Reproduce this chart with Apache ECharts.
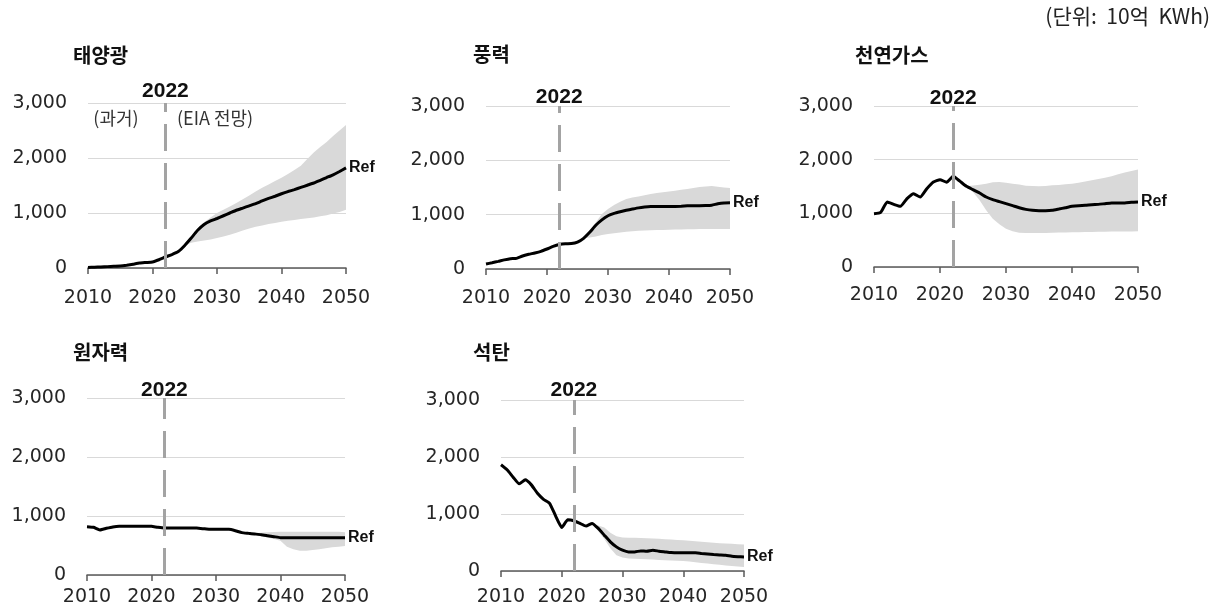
<!DOCTYPE html>
<html>
<head>
<meta charset="utf-8">
<script src="https://cdn.jsdelivr.net/npm/echarts@6/dist/echarts.min.js"></script>
<style>
  html, body { margin: 0; padding: 0; background: #fff; }
  #chart { width: 1223px; height: 616px; }
</style>
</head>
<body>
<div id="chart"></div>
<script>
// Years on the horizontal axis
const YEARS = ['2010', '2011', '2012', '2013', '2014', '2015', '2016', '2017', '2018', '2019',
               '2020', '2021', '2022', '2023', '2024', '2025', '2026', '2027', '2028', '2029',
               '2030', '2031', '2032', '2033', '2034', '2035', '2036', '2037', '2038', '2039',
               '2040', '2041', '2042', '2043', '2044', '2045', '2046', '2047', '2048', '2049', '2050'];
const X_TICK_STEP = 10;              // a labelled tick every ten years
const Y_TICKS = [0, 1000, 2000, 3000];
const SPLIT_YEAR = '2022';

const TITLES = ['태양광', '풍력', '천연가스', '원자력', '석탄'];
const UNIT_TEXT = '(단위:  10억  KWh)';
const PAST_TEXT = '(과거)';
const OUTLOOK_TEXT = '(EIA 전망)';
const REF_TEXT = 'Ref';

// Reference case (2010-2050), 10억 KWh
const solarRef = [10, 15, 20, 25, 30, 35, 50, 70, 90, 100,
                  110, 150, 200, 245, 300, 410, 545, 685, 790, 855,
                  900, 950, 1000, 1050, 1090, 1130, 1170, 1220, 1265, 1305,
                  1350, 1390, 1425, 1465, 1505, 1545, 1595, 1645, 1695, 1755, 1820];
const windRef = [92, 115, 140, 168, 190, 196, 240, 270, 295, 325,
                 368, 415, 450, 466, 468, 495, 565, 675, 805, 905,
                 980, 1024, 1054, 1080, 1103, 1125, 1140, 1150, 1152, 1152,
                 1152, 1152, 1155, 1162, 1165, 1165, 1168, 1175, 1200, 1215, 1218];
const gasRef = [994, 1018, 1211, 1167, 1130, 1273, 1366, 1304, 1459, 1583,
                1627, 1580, 1690, 1600, 1503, 1441, 1379, 1304, 1254, 1217,
                1180, 1143, 1105, 1074, 1056, 1050, 1050, 1056, 1080, 1105,
                1130, 1143, 1149, 1161, 1167, 1180, 1192, 1192, 1192, 1205, 1211];
const nuclearRef = [819, 808, 763, 791, 815, 825, 825, 825, 828, 828,
                    825, 808, 797, 797, 797, 797, 797, 795, 785, 774,
                    774, 774, 774, 751, 718, 706, 695, 684, 667, 650,
                    633, 633, 633, 633, 633, 633, 633, 633, 633, 633, 633];
const coalRef = [1864, 1776, 1646, 1529, 1599, 1511, 1364, 1258, 1188, 964,
                 764, 900, 882, 835, 788, 835, 747, 629, 512, 423,
                 365, 335, 335, 353, 347, 365, 347, 335, 323, 318,
                 318, 318, 318, 306, 297, 288, 282, 276, 259, 252, 247];

// Range of side cases, starting at the given year
const solarBandStart = '2025';
const solarLow = [410, 460, 480, 500, 520, 545, 575, 605, 640, 680, 720, 750, 775,
                  800, 820, 840, 860, 875, 890, 905, 920, 940, 960, 990, 1020, 1060];
const solarHigh = [410, 560, 710, 830, 920, 1000, 1060, 1120, 1180, 1250, 1320, 1390, 1460,
                   1520, 1580, 1640, 1710, 1780, 1860, 1980, 2100, 2200, 2290, 2400, 2500, 2600];

const windBandStart = '2026';
const windLow = [565, 582, 600, 625, 644, 660, 674, 685, 695, 705, 710, 714, 718,
                 720, 723, 726, 728, 730, 733, 736, 736, 736, 736, 736, 736];
const windHigh = [565, 690, 858, 1011, 1103, 1177, 1238, 1287, 1315, 1336, 1358, 1380, 1398,
                  1413, 1428, 1442, 1457, 1471, 1492, 1510, 1520, 1526, 1515, 1500, 1490];

const gasBandStart = '2024';
const gasLow = [1503, 1397, 1242, 1056, 900, 795, 714, 664, 640, 635, 633, 633, 635, 640,
                642, 644, 646, 648, 651, 653, 656, 658, 660, 661, 662, 663, 664];
const gasHigh = [1503, 1520, 1534, 1553, 1577, 1584, 1571, 1553, 1535, 1515, 1508, 1503, 1510, 1521,
                 1530, 1542, 1553, 1572, 1593, 1615, 1640, 1664, 1690, 1726, 1760, 1790, 1815];

const nuclearBandStart = '2034';
const nuclearLow = [718, 706, 690, 660, 635, 610, 580, 480, 435, 412, 412, 424, 435, 452, 469, 480, 491];
const nuclearHigh = [718, 712, 710, 715, 725, 730, 735, 735, 735, 735, 735, 735, 735, 735, 735, 735, 725];

const coalBandStart = '2025';
const coalLow = [835, 700, 560, 400, 276, 235, 218, 214, 212, 206, 200, 195, 190,
                 185, 180, 176, 165, 153, 141, 130, 118, 108, 98, 88, 79, 71];
const coalHigh = [835, 800, 764, 670, 611, 588, 585, 582, 578, 574, 570, 565, 558,
                  552, 546, 541, 532, 522, 512, 503, 494, 488, 482, 476, 470, 464];

// Layout of the five small multiples
const panels = [
  { ref: solarRef, start: solarBandStart, low: solarLow, high: solarHigh,
    grid: { left: 88, top: 103, width: 258, height: 165 }, title: [73, 45], yearLabelGap: 1, xLabelGap: 21 },
  { ref: windRef, start: windBandStart, low: windLow, high: windHigh,
    grid: { left: 486, top: 106, width: 244, height: 163 }, title: [473, 44], yearLabelGap: -2, xLabelGap: 20 },
  { ref: gasRef, start: gasBandStart, low: gasLow, high: gasHigh,
    grid: { left: 874, top: 106, width: 264, height: 161 }, title: [855, 45], yearLabelGap: -3, xLabelGap: 19 },
  { ref: nuclearRef, start: nuclearBandStart, low: nuclearLow, high: nuclearHigh,
    grid: { left: 87, top: 398, width: 258, height: 177 }, title: [73, 342], yearLabelGap: -3, xLabelGap: 13 },
  { ref: coalRef, start: coalBandStart, low: coalLow, high: coalHigh,
    grid: { left: 501, top: 400, width: 243, height: 171 }, title: [473, 342], yearLabelGap: -1, xLabelGap: 17 }
];

const TICK_FONT = 'DejaVu Sans';
const BOLD_LATIN = 'Liberation Sans, Arial, sans-serif';
const KR_FONT = '"Noto Sans CJK KR", "Noto Sans", sans-serif';
const BAND_COLOR = '#d9d9d9';

// place a side-case array on the full year axis ('-' where no value)
function alignToYears(startYear, values) {
  const offset = YEARS.indexOf(startYear);
  return YEARS.map((y, k) => (k >= offset && k - offset < values.length) ? values[k - offset] : '-');
}

const showEvery = (idx) => idx % X_TICK_STEP === 0;

const grids = [], xAxes = [], yAxes = [], series = [], titles = [];

panels.forEach((p, i) => {
  grids.push(Object.assign({ outerBoundsMode: 'none', containLabel: false }, p.grid));

  xAxes.push({
    type: 'category', gridIndex: i, data: YEARS, boundaryGap: false,
    axisLine: { show: true, lineStyle: { color: '#595959', width: 1.5 } },
    axisTick: { show: true, length: 6, interval: showEvery, lineStyle: { color: '#595959', width: 1.5 } },
    splitLine: { show: false },
    axisLabel: { interval: showEvery, margin: p.xLabelGap, fontFamily: TICK_FONT, fontSize: 19, color: '#262626' }
  });

  yAxes.push({
    type: 'value', gridIndex: i, min: Y_TICKS[0], max: Y_TICKS[Y_TICKS.length - 1], interval: 1000,
    axisLine: { show: false }, axisTick: { show: false },
    splitLine: { show: true, lineStyle: { color: '#d9d9d9', width: 1.2 } },
    axisLabel: { margin: 21, fontFamily: TICK_FONT, fontSize: 19, color: '#262626',
                 formatter: v => v.toLocaleString('en-US') }
  });

  const stackId = 'band' + i;
  const lowAligned = alignToYears(p.start, p.low);
  const spanAligned = alignToYears(p.start, p.high.map((v, k) => v - p.low[k]));

  // lower edge of the side-case range (invisible base of the stack)
  series.push({
    type: 'line', xAxisIndex: i, yAxisIndex: i, stack: stackId, data: lowAligned,
    symbol: 'none', lineStyle: { opacity: 0, width: 0 }, silent: true, z: 1,
    markLine: {
      silent: true, symbol: 'none', animation: false,
      lineStyle: { type: [27, 12], color: '#a3a3a3', width: 3 },
      label: { show: true, position: 'end', formatter: SPLIT_YEAR, distance: p.yearLabelGap,
               fontFamily: BOLD_LATIN, fontWeight: 'bold', fontSize: 21, color: '#111' },
      data: [[{ coord: [SPLIT_YEAR, Y_TICKS[0]] }, { coord: [SPLIT_YEAR, Y_TICKS[Y_TICKS.length - 1]] }]]
    }
  });
  // shaded range between low and high cases
  series.push({
    type: 'line', xAxisIndex: i, yAxisIndex: i, stack: stackId, data: spanAligned,
    symbol: 'none', lineStyle: { opacity: 0, width: 0 }, silent: true, z: 2,
    areaStyle: { color: BAND_COLOR, opacity: 1 }
  });
  // reference case
  series.push({
    type: 'line', xAxisIndex: i, yAxisIndex: i, z: 3, data: p.ref,
    symbol: 'none', smooth: 0.15,
    lineStyle: { color: '#000', width: 3 },
    endLabel: { show: true, formatter: REF_TEXT, distance: 3,
                fontFamily: BOLD_LATIN, fontWeight: 'bold', fontSize: 16, color: '#111' }
  });

  titles.push({
    text: TITLES[i], left: p.title[0], top: p.title[1], padding: 0,
    textStyle: { fontFamily: KR_FONT, fontWeight: 'bold', fontSize: 20, color: '#111' }
  });
});

const option = {
  animation: false,
  backgroundColor: '#fff',
  title: titles,
  grid: grids,
  xAxis: xAxes,
  yAxis: yAxes,
  series: series,
  graphic: [
    { type: 'text', right: 13, top: 6,
      style: { text: UNIT_TEXT, font: '21px ' + KR_FONT, fill: '#222' } },
    { type: 'text', x: 116, y: 118,
      style: { text: PAST_TEXT, font: '18px ' + KR_FONT, fill: '#333', textAlign: 'center', textVerticalAlign: 'middle' } },
    { type: 'text', x: 177, y: 118,
      style: { text: OUTLOOK_TEXT, font: '18px ' + KR_FONT, fill: '#333', textAlign: 'left', textVerticalAlign: 'middle' } }
  ]
};

const chart = echarts.init(document.getElementById('chart'), null, { renderer: 'canvas' });
chart.setOption(option);
</script>
</body>
</html>
